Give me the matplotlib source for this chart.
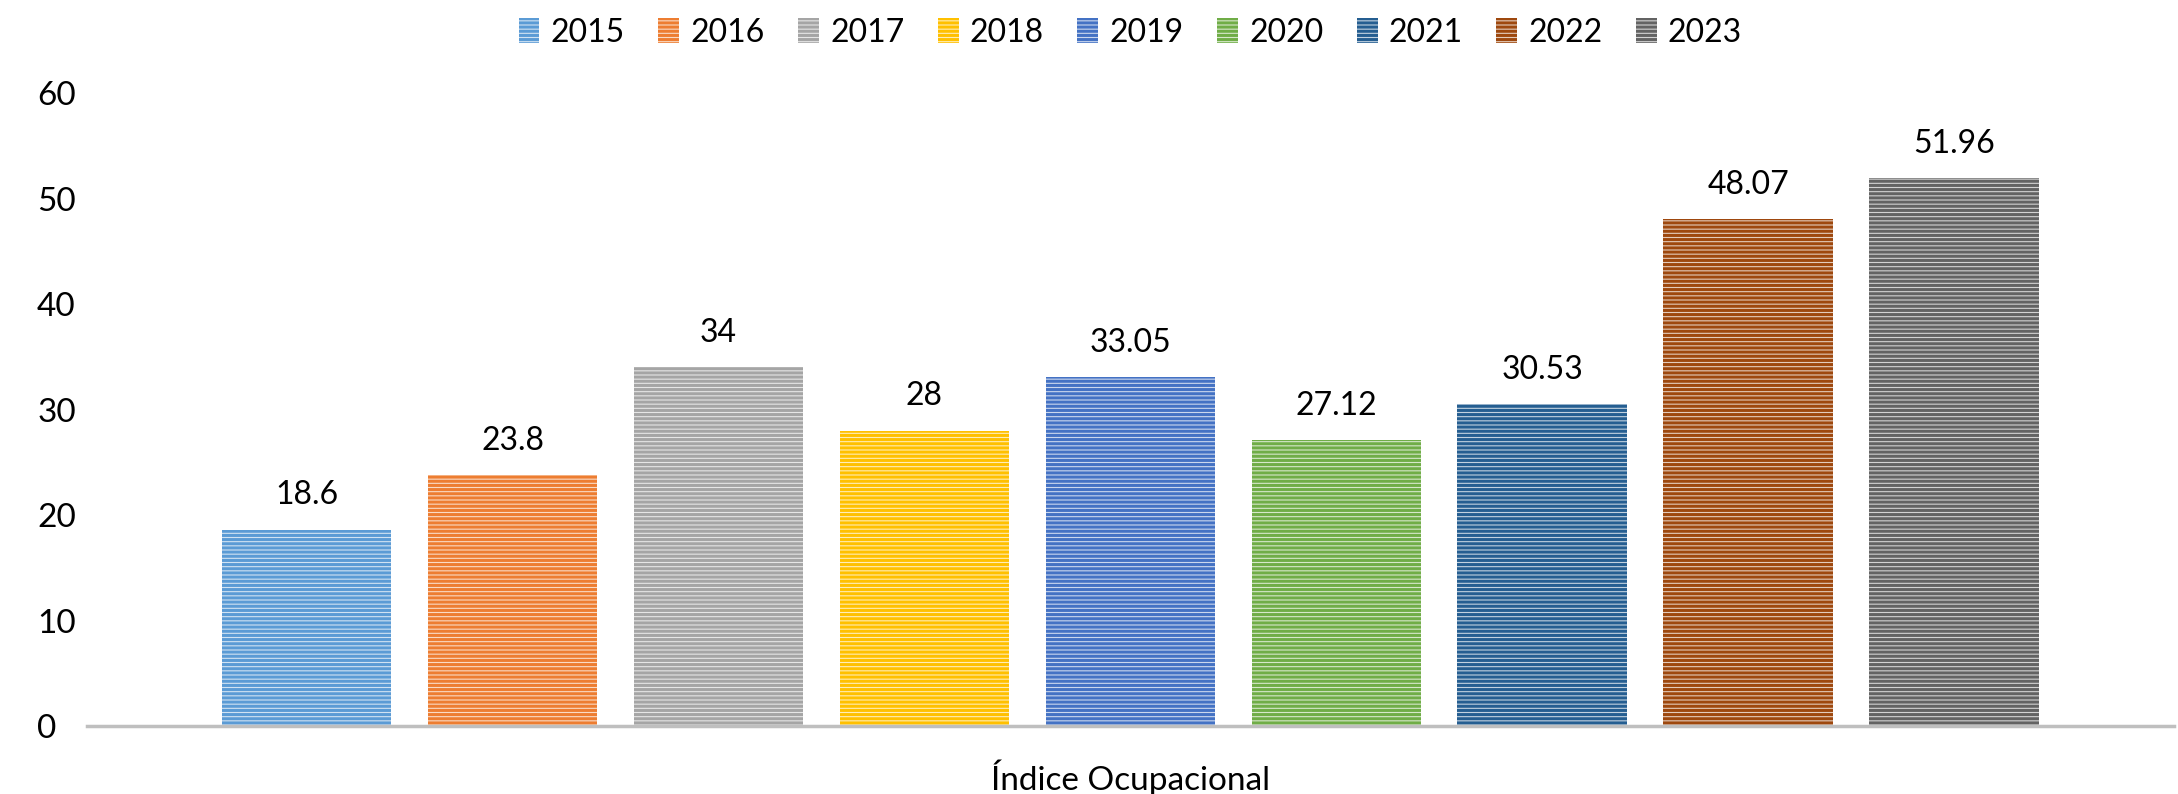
import matplotlib
matplotlib.use("Agg")
import matplotlib.pyplot as plt
import numpy as np
from matplotlib.colors import to_rgb

years = ["2015", "2016", "2017", "2018", "2019", "2020", "2021", "2022", "2023"]
values = [18.6, 23.8, 34, 28, 33.05, 27.12, 30.53, 48.07, 51.96]
labels = ["18.6", "23.8", "34", "28", "33.05", "27.12", "30.53", "48.07", "51.96"]
colors = ["#5B9BD5", "#ED7D31", "#A5A5A5", "#FFC000", "#4472C4",
          "#70AD47", "#255E91", "#9E480E", "#636363"]
category = "Índice Ocupacional"
yticks = [0, 10, 20, 30, 40, 50, 60]

plt.rcParams["font.family"] = ["Lato", "DejaVu Sans"]
plt.rcParams["hatch.linewidth"] = 2.2


def _tint(c, amt=0.72):
    r, g, b = to_rgb(c)
    return (r + (1 - r) * amt, g + (1 - g) * amt, b + (1 - b) * amt)


fig = plt.figure(figsize=(21.78, 7.94), dpi=100)
ax = fig.add_axes([0.040, 0.0856, 0.958, 0.797])

step = 0.0987
width = 0.0813
xs = (np.arange(len(years)) - (len(years) - 1) / 2) * step
for x, v, lab, yr, c in zip(xs, values, labels, years, colors):
    ax.bar(x, v, width=width, color=_tint(c), edgecolor=c, hatch="----",
           linewidth=0, label=yr)
    ax.annotate(lab, (x, v), xytext=(0, 14), textcoords="offset points",
                ha="center", va="bottom", fontsize=23)

ax.set_xlim(-0.5, 0.5)
ax.set_ylim(0, 60)
ax.set_yticks(yticks)
ax.set_yticklabels([str(t) for t in yticks], fontsize=24)
ax.tick_params(axis="y", length=0, pad=36)
for t in ax.get_yticklabels():
    t.set_horizontalalignment("left")
ax.set_xticks([0])
ax.set_xticklabels([category], fontsize=24)
ax.tick_params(axis="x", length=0, pad=24)
for s in ["top", "right", "left"]:
    ax.spines[s].set_visible(False)
ax.spines["bottom"].set_color("#BFBFBF")
ax.spines["bottom"].set_linewidth(2.5)

ax.legend(loc="upper center", bbox_to_anchor=(0.5, 1.165), ncol=9,
          frameon=False, fontsize=23, handlelength=0.65, handleheight=0.8,
          handletextpad=0.35, columnspacing=1.05)

fig.savefig("out.png", dpi=100)
